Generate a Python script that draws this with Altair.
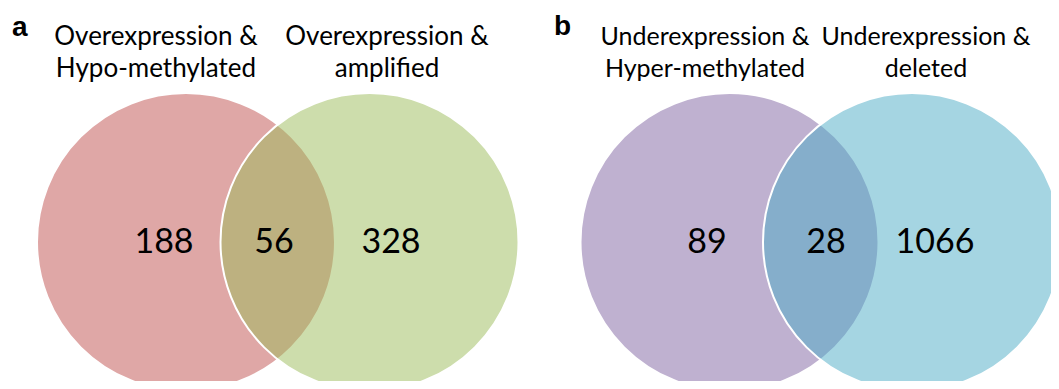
import altair as alt
import pandas as pd

# ---------------- data ----------------
panel_letters = ["a", "b"]
left_set_title = [["Overexpression &", "Hypo-methylated"], ["Underexpression &", "Hyper-methylated"]]
right_set_title = [["Overexpression &", "amplified"], ["Underexpression &", "deleted"]]
only_left = [188, 89]
overlap = [56, 28]
only_right = [328, 1066]
left_colors = ["#C0504D", "#8064A2"]
right_colors = ["#9BBB59", "#4BACC6"]

# ---------------- layout (image pixel coordinates) ----------------
W, H = 1043, 373
R = 149
CY = 242
left_cx = [186, 729.5]
right_cx = [369.5, 912]
count_x = [[164, 274, 391], [707, 826, 935]]
count_y = 253
title_cx = [[156, 387], [705, 926]]
title_y = [45, 77]
title_size = [26, 25]
letter_x = [12, 554]
letter_y = [36, 35]

left_rows, right_rows, count_rows, letter_rows = [], [], [], []
title_rows = [[], []]
for i in range(2):
    left_rows.append({"x": left_cx[i], "y": CY, "c": left_colors[i]})
    right_rows.append({"x": right_cx[i], "y": CY, "c": right_colors[i]})
    for j, v in enumerate([only_left[i], overlap[i], only_right[i]]):
        count_rows.append({"x": count_x[i][j], "y": count_y, "t": str(v)})
    for k, lines in enumerate([left_set_title[i], right_set_title[i]]):
        for li, line in enumerate(lines):
            title_rows[i].append({"x": title_cx[i][k], "y": title_y[li], "t": line})
    letter_rows.append({"x": letter_x[i], "y": letter_y[i], "t": panel_letters[i]})

xs = alt.Scale(domain=[8, 8 + W], nice=False, zero=False)
ys = alt.Scale(domain=[8, 8 + H], nice=False, zero=False, reverse=True)
X = lambda: alt.X("x:Q", scale=xs, axis=None)
Y = lambda: alt.Y("y:Q", scale=ys, axis=None)

# Vega symbol size is the area of the bounding square: (2R)^2
circle_size = (2 * R) ** 2

left_layer = alt.Chart(pd.DataFrame(left_rows)).mark_circle(
    size=circle_size, fillOpacity=0.5, stroke="white", strokeWidth=2, strokeOpacity=1, opacity=1
).encode(x=X(), y=Y(), color=alt.Color("c:N", scale=None))

right_layer = alt.Chart(pd.DataFrame(right_rows)).mark_circle(
    size=circle_size, fillOpacity=0.5, stroke="white", strokeWidth=2, strokeOpacity=1, opacity=1
).encode(x=X(), y=Y(), color=alt.Color("c:N", scale=None))

counts = alt.Chart(pd.DataFrame(count_rows)).mark_text(
    font="Lato", fontSize=34, color="black", align="center", baseline="alphabetic"
).encode(x=X(), y=Y(), text="t:N")

title_layers = [
    alt.Chart(pd.DataFrame(title_rows[i])).mark_text(
        font="Lato", fontSize=title_size[i], color="black", align="center", baseline="alphabetic"
    ).encode(x=X(), y=Y(), text="t:N")
    for i in range(2)
]

letters = alt.Chart(pd.DataFrame(letter_rows)).mark_text(
    font="Liberation Sans", fontSize=28, fontWeight="bold", color="black", align="left", baseline="alphabetic"
).encode(x=X(), y=Y(), text="t:N")

chart = alt.layer(left_layer, right_layer, counts, *title_layers, letters).properties(
    width=W, height=H, padding=0, autosize=alt.AutoSizeParams(type="none")
).configure_view(stroke=None)

chart.save("out.html", embed_options={"renderer": "svg", "actions": False})
